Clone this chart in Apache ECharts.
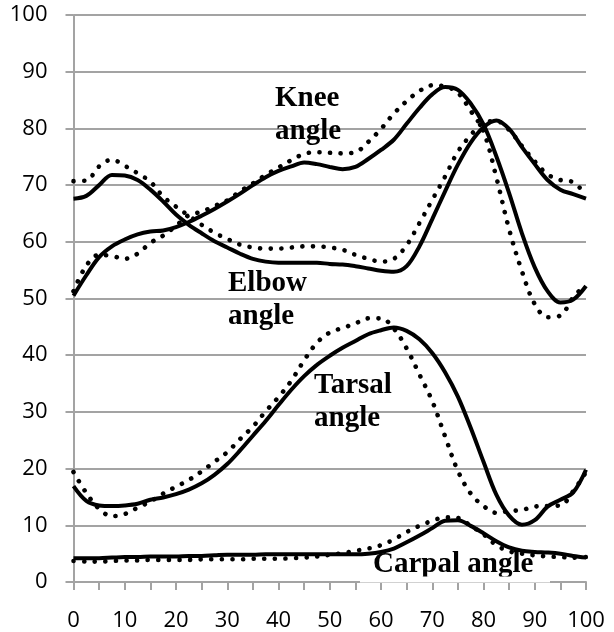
<!DOCTYPE html>
<html>
<head>
<meta charset="utf-8">
<script src="https://cdn.jsdelivr.net/npm/echarts@6/dist/echarts.min.js"></script>
<style>
html,body{margin:0;padding:0;background:#fff;}
#chart{width:614px;height:632px;}
</style>
</head>
<body>
<div id="chart"></div>
<script>
// x positions (% of cycle)
var xs = [0,2.5,5,7.5,10,12.5,15,17.5,20,22.5,25,27.5,30,32.5,35,37.5,40,42.5,45,47.5,50,52.5,55,57.5,60,62.5,65,67.5,70,72.5,75,77.5,80,82.5,85,87.5,90,92.5,95,97.5,100];

var elbowSolid = [67.6,68.1,70.0,71.8,71.7,70.9,69.2,67.1,64.8,63.0,61.5,60.1,59.0,57.9,57.0,56.5,56.3,56.3,56.3,56.3,56.1,56.0,55.7,55.3,54.9,54.7,55.7,59.2,64.0,68.9,73.6,77.5,80.2,81.4,79.9,76.7,73.7,70.9,69.2,68.4,67.6];
var elbowDotted = [70.7,70.8,73.3,74.5,73.4,72.1,70.6,68.0,66.2,64.6,63.0,61.6,60.5,59.5,59.0,58.8,58.8,59.0,59.2,59.2,59.0,58.6,57.7,57.0,56.5,57.0,59.4,63.3,67.4,71.5,75.9,78.8,81.0,81.3,79.7,76.9,74.2,71.9,70.9,70.5,68.3];
var kneeSolid = [50.5,54.1,57.3,59.2,60.4,61.3,61.8,62.0,62.6,63.5,64.6,65.8,67.1,68.5,70.0,71.4,72.5,73.3,74.0,73.7,73.2,72.8,73.2,74.6,76.2,78.0,80.8,83.6,86.0,87.3,86.8,84.4,80.7,75.1,68.6,61.5,55.5,51.3,49.3,49.8,52.2];
var kneeDotted = [51.3,55.8,57.7,57.5,57.0,57.9,59.8,61.1,62.8,64.7,65.3,66.3,67.3,68.9,70.3,71.8,73.1,74.4,75.5,75.8,75.7,75.6,75.8,77.6,79.9,82.6,84.8,86.6,87.6,87.4,86.3,83.1,79.5,71.4,62.2,54.8,49.0,46.7,47.0,50.2,52.5];
var tarsalSolid = [16.9,14.3,13.5,13.4,13.5,13.8,14.5,14.9,15.5,16.3,17.4,18.9,20.8,23.2,25.8,28.4,31.2,33.9,36.3,38.3,39.9,41.3,42.5,43.7,44.4,44.9,44.3,42.8,40.4,37.0,32.7,27.2,21.2,15.4,11.7,10.1,10.9,13.3,14.5,15.8,19.8];
var tarsalDotted = [19.4,15.7,12.9,11.6,12.0,13.1,14.2,15.6,16.8,18.0,19.5,21.2,22.9,25.2,27.4,30.1,32.6,35.5,39.1,42.2,44.0,44.8,45.6,46.5,46.5,44.7,41.2,36.6,31.9,25.7,19.6,15.6,13.4,12.2,12.5,12.7,13.3,13.4,13.5,16.0,19.4];
var carpalSolid = [4.2,4.2,4.2,4.3,4.4,4.4,4.5,4.5,4.5,4.6,4.6,4.7,4.8,4.8,4.8,4.9,4.9,4.9,4.9,4.9,4.9,4.9,4.9,5.0,5.3,5.9,7.0,8.2,9.5,10.8,10.9,9.9,8.6,7.2,6.1,5.5,5.3,5.2,5.0,4.6,4.3];
var carpalDotted = [3.7,3.6,3.6,3.7,3.8,3.8,3.9,3.9,3.9,3.9,4.0,4.0,4.0,4.0,4.1,4.1,4.1,4.2,4.3,4.5,4.8,5.1,5.5,5.9,6.5,7.5,8.8,9.9,10.8,11.4,11.3,9.9,8.4,6.5,5.4,5.0,4.7,4.5,4.4,4.3,4.4];

var labelTexts = ['Knee\nangle', 'Elbow\nangle', 'Tarsal\nangle', 'Carpal angle'];

function pairs(ys){ return xs.map(function(x,i){ return [x, ys[i]]; }); }

var GRID = '#a3a3a3';
var solidStyle = {color:'#000', width:4, type:'solid'};
var dotStyle = {color:'#000', width:4.6, type:[0.1, 10.5], cap:'round'};

function mk(name, ys, dotted){
  return {
    name: name, type:'line', data: pairs(ys), showSymbol:false, symbol:'none',
    smooth: 0.35, lineStyle: dotted ? dotStyle : solidStyle, z: dotted ? 3 : 4,
    emphasis:{disabled:true}
  };
}

var chart = echarts.init(document.getElementById('chart'), null, {renderer:'canvas'});
var labelFont = 'bold 29px "Liberation Serif", "Times New Roman", serif';
chart.setOption({
  animation:false,
  backgroundColor:'#fff',
  grid:{left:73.5, right:28, top:15, bottom:48, containLabel:false},
  xAxis:{
    type:'value', min:0, max:100, interval:5,
    axisLine:{show:true, onZero:false, lineStyle:{color:GRID, width:2}},
    axisTick:{show:true, length:8, inside:false, lineStyle:{color:GRID, width:2}},
    splitLine:{show:false},
    axisLabel:{
      margin:28, color:'#000', fontSize:22, fontFamily:'"Open Sans", sans-serif',
      formatter:function(v){ return (v % 10 === 0) ? String(v) : ''; }
    }
  },
  yAxis:{
    type:'value', min:0, max:100, interval:10,
    axisLine:{show:true, lineStyle:{color:GRID, width:2}},
    axisTick:{show:true, length:8, lineStyle:{color:GRID, width:2}},
    splitLine:{show:true, lineStyle:{color:GRID, width:2}},
    axisLabel:{margin:26, color:'#000', fontSize:22, fontFamily:'"Open Sans", sans-serif'}
  },
  series:[
    mk('Elbow', elbowSolid, false),
    mk('Elbow (dotted)', elbowDotted, true),
    mk('Knee', kneeSolid, false),
    mk('Knee (dotted)', kneeDotted, true),
    mk('Tarsal', tarsalSolid, false),
    mk('Tarsal (dotted)', tarsalDotted, true),
    mk('Carpal', carpalSolid, false),
    mk('Carpal (dotted)', carpalDotted, true)
  ],
  graphic:[
    {type:'text', left:275, top:82, z:1, style:{text:labelTexts[0], font:labelFont, lineHeight:33, fill:'#000'}},
    {type:'text', left:228, top:267, z:1, style:{text:labelTexts[1], font:labelFont, lineHeight:33, fill:'#000'}},
    {type:'text', left:314, top:369, z:1, style:{text:labelTexts[2], font:labelFont, lineHeight:33, fill:'#000'}},
    {type:'text', left:373, top:548, z:1, style:{text:labelTexts[3], font:labelFont, lineHeight:33, fill:'#000'}},
    {type:'rect', z:1, shape:{x:360, y:576.5, width:190, height:6}, style:{fill:'#fff'}}
  ]
});
</script>
</body>
</html>
